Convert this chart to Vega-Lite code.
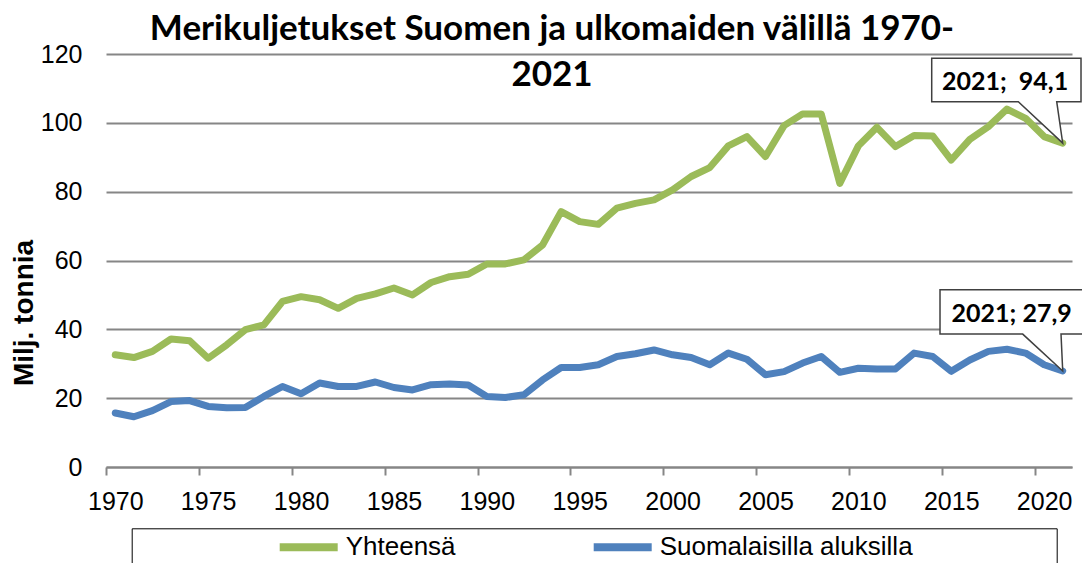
{
  "$schema": "https://vega.github.io/schema/vega-lite/v6.json",
  "width": 966,
  "height": 413,
  "autosize": {"type": "none"},
  "padding": {"left": 106, "top": 54, "right": 10, "bottom": 96},
  "background": "white",
  "config": {"view": {"stroke": null}, "font": "Liberation Sans"},
  "title": {
    "text": ["Merikuljetukset Suomen ja ulkomaiden välillä 1970-", "2021"],
    "font": "Lato",
    "fontSize": 35,
    "fontWeight": "bold",
    "color": "black",
    "anchor": "middle",
    "frame": "group",
    "baseline": "top",
    "lineHeight": 46,
    "offset": -51,
    "dx": -37
  },
  "layer": [
    {
      "data": {
        "values": [
          {"vuosi": 1970, "Yhteensä": 32.6, "Suomalaisilla aluksilla": 15.7},
          {"vuosi": 1971, "Yhteensä": 31.8, "Suomalaisilla aluksilla": 14.6},
          {"vuosi": 1972, "Yhteensä": 33.6, "Suomalaisilla aluksilla": 16.4},
          {"vuosi": 1973, "Yhteensä": 37.2, "Suomalaisilla aluksilla": 19.0},
          {"vuosi": 1974, "Yhteensä": 36.7, "Suomalaisilla aluksilla": 19.3},
          {"vuosi": 1975, "Yhteensä": 31.6, "Suomalaisilla aluksilla": 17.6},
          {"vuosi": 1976, "Yhteensä": 35.5, "Suomalaisilla aluksilla": 17.2},
          {"vuosi": 1977, "Yhteensä": 39.9, "Suomalaisilla aluksilla": 17.3},
          {"vuosi": 1978, "Yhteensä": 41.3, "Suomalaisilla aluksilla": 20.5},
          {"vuosi": 1979, "Yhteensä": 48.1, "Suomalaisilla aluksilla": 23.4},
          {"vuosi": 1980, "Yhteensä": 49.5, "Suomalaisilla aluksilla": 21.3},
          {"vuosi": 1981, "Yhteensä": 48.6, "Suomalaisilla aluksilla": 24.4},
          {"vuosi": 1982, "Yhteensä": 46.1, "Suomalaisilla aluksilla": 23.4},
          {"vuosi": 1983, "Yhteensä": 49.0, "Suomalaisilla aluksilla": 23.4},
          {"vuosi": 1984, "Yhteensä": 50.3, "Suomalaisilla aluksilla": 24.7},
          {"vuosi": 1985, "Yhteensä": 52.0, "Suomalaisilla aluksilla": 23.1},
          {"vuosi": 1986, "Yhteensä": 50.0, "Suomalaisilla aluksilla": 22.4},
          {"vuosi": 1987, "Yhteensä": 53.6, "Suomalaisilla aluksilla": 23.9},
          {"vuosi": 1988, "Yhteensä": 55.3, "Suomalaisilla aluksilla": 24.1},
          {"vuosi": 1989, "Yhteensä": 56.0, "Suomalaisilla aluksilla": 23.8},
          {"vuosi": 1990, "Yhteensä": 59.0, "Suomalaisilla aluksilla": 20.5},
          {"vuosi": 1991, "Yhteensä": 59.0, "Suomalaisilla aluksilla": 20.2},
          {"vuosi": 1992, "Yhteensä": 60.2, "Suomalaisilla aluksilla": 21.0},
          {"vuosi": 1993, "Yhteensä": 64.5, "Suomalaisilla aluksilla": 25.3},
          {"vuosi": 1994, "Yhteensä": 74.2, "Suomalaisilla aluksilla": 28.9},
          {"vuosi": 1995, "Yhteensä": 71.3, "Suomalaisilla aluksilla": 28.9},
          {"vuosi": 1996, "Yhteensä": 70.5, "Suomalaisilla aluksilla": 29.7},
          {"vuosi": 1997, "Yhteensä": 75.2, "Suomalaisilla aluksilla": 32.1},
          {"vuosi": 1998, "Yhteensä": 76.6, "Suomalaisilla aluksilla": 32.9},
          {"vuosi": 1999, "Yhteensä": 77.6, "Suomalaisilla aluksilla": 34.0},
          {"vuosi": 2000, "Yhteensä": 80.5, "Suomalaisilla aluksilla": 32.6},
          {"vuosi": 2001, "Yhteensä": 84.4, "Suomalaisilla aluksilla": 31.8},
          {"vuosi": 2002, "Yhteensä": 87.0, "Suomalaisilla aluksilla": 29.7},
          {"vuosi": 2003, "Yhteensä": 93.3, "Suomalaisilla aluksilla": 33.1},
          {"vuosi": 2004, "Yhteensä": 96.0, "Suomalaisilla aluksilla": 31.3},
          {"vuosi": 2005, "Yhteensä": 90.2, "Suomalaisilla aluksilla": 26.8},
          {"vuosi": 2006, "Yhteensä": 99.2, "Suomalaisilla aluksilla": 27.7},
          {"vuosi": 2007, "Yhteensä": 102.6, "Suomalaisilla aluksilla": 30.2},
          {"vuosi": 2008, "Yhteensä": 102.6, "Suomalaisilla aluksilla": 32.1},
          {"vuosi": 2009, "Yhteensä": 82.4, "Suomalaisilla aluksilla": 27.5},
          {"vuosi": 2010, "Yhteensä": 93.3, "Suomalaisilla aluksilla": 28.7},
          {"vuosi": 2011, "Yhteensä": 98.7, "Suomalaisilla aluksilla": 28.5},
          {"vuosi": 2012, "Yhteensä": 93.1, "Suomalaisilla aluksilla": 28.5},
          {"vuosi": 2013, "Yhteensä": 96.3, "Suomalaisilla aluksilla": 33.1},
          {"vuosi": 2014, "Yhteensä": 96.2, "Suomalaisilla aluksilla": 32.1},
          {"vuosi": 2015, "Yhteensä": 89.2, "Suomalaisilla aluksilla": 27.8},
          {"vuosi": 2016, "Yhteensä": 95.2, "Suomalaisilla aluksilla": 31.1},
          {"vuosi": 2017, "Yhteensä": 98.9, "Suomalaisilla aluksilla": 33.6},
          {"vuosi": 2018, "Yhteensä": 104.0, "Suomalaisilla aluksilla": 34.2},
          {"vuosi": 2019, "Yhteensä": 101.3, "Suomalaisilla aluksilla": 33.1},
          {"vuosi": 2020, "Yhteensä": 96.0, "Suomalaisilla aluksilla": 29.7},
          {"vuosi": 2021, "Yhteensä": 94.1, "Suomalaisilla aluksilla": 27.9}
        ]
      },
      "transform": [{"fold": ["Yhteensä", "Suomalaisilla aluksilla"], "as": ["sarja", "arvo"]}],
      "mark": {"type": "line", "strokeWidth": 7, "strokeJoin": "round", "strokeCap": "round"},
      "encoding": {
        "x": {
          "field": "vuosi",
          "type": "quantitative",
          "scale": {"domain": [1969.5, 2021.5], "nice": false, "zero": false},
          "axis": {
            "title": null,
            "values": [1970, 1975, 1980, 1985, 1990, 1995, 2000, 2005, 2010, 2015, 2020],
            "format": "d",
            "grid": false,
            "tickOffset": -9.29,
            "labelOffset": 9.29,
            "tickSize": 8,
            "tickColor": "#868686",
            "tickWidth": 2,
            "domainColor": "#868686",
            "domainWidth": 2,
            "labelPadding": 14,
            "labelFont": "Liberation Sans",
            "labelFontSize": 25,
            "labelColor": "black",
            "labelFlush": false,
            "labelOverlap": false
          }
        },
        "y": {
          "field": "arvo",
          "type": "quantitative",
          "scale": {"domain": [0, 120], "nice": false},
          "axis": {
            "title": "Milj. tonnia",
            "values": [0, 20, 40, 60, 80, 100, 120],
            "grid": true,
            "gridColor": "#868686",
            "gridWidth": 2,
            "domain": false,
            "ticks": false,
            "tickSize": 0,
            "labelPadding": 24,
            "labelFont": "Liberation Sans",
            "labelFontSize": 25,
            "labelColor": "black",
            "titleFont": "Liberation Sans",
            "titleFontSize": 28,
            "titleFontWeight": "bold",
            "titleColor": "black",
            "titleAngle": 270,
            "titleAlign": "center",
            "titleBaseline": "alphabetic",
            "titleX": -74,
            "titleY": 258.5
          }
        },
        "color": {
          "field": "sarja",
          "type": "nominal",
          "scale": {"domain": ["Yhteensä", "Suomalaisilla aluksilla"], "range": ["#9BBB59", "#4F81BD"]},
          "legend": {
            "orient": "none",
            "legendX": 25.7,
            "legendY": 474.3,
            "direction": "horizontal",
            "title": "\u200b\u00a0\u00a0\u00a0\u00a0\u00a0\u00a0\u00a0\u00a0\u00a0\u00a0\u00a0\u00a0\u00a0\u00a0\u00a0\u00a0\u00a0\u00a0\u200b",
            "titleOrient": "left",
            "titlePadding": 3,
            "titleFont": "Liberation Sans",
            "titleFontSize": 25,
            "titleFontWeight": "normal",
            "titleOpacity": 0,
            "labelFont": "Liberation Sans",
            "labelFontSize": 26,
            "labelColor": "black",
            "labelLimit": 600,
            "labelOffset": 53,
            "labelExpr": "datum.label == 'Suomalaisilla aluksilla' ? datum.label + '\u00a0\u00a0\u00a0\u00a0\u00a0\u00a0\u00a0\u00a0\u00a0\u00a0\u00a0\u00a0\u00a0\u00a0\u00a0\u00a0\u00a0\u00a0\u00a0\u200b' : datum.label",
            "symbolType": "M0,0L58,0",
            "symbolSize": 4,
            "symbolStrokeWidth": 8,
            "columnPadding": 122,
            "padding": 6,
            "strokeColor": "black",
            "fillColor": "white"
          }
        }
      }
    },
    {
      "data": {"values": [{"vuosi": 2021, "arvo": 94.1}]},
      "mark": {
        "type": "point",
        "shape": "M0,0L-44.4,-41.5L-131,-41.5L-131,-84.9L18.3,-84.9L18.3,-41.5L-6,-41.5Z",
        "size": 4,
        "filled": true,
        "fill": "white",
        "stroke": "#404040",
        "strokeWidth": 1.5,
        "opacity": 1,
        "fillOpacity": 1
      },
      "encoding": {
        "x": {"field": "vuosi", "type": "quantitative"},
        "y": {"field": "arvo", "type": "quantitative"}
      }
    },
    {
      "data": {"values": [{"vuosi": 2021, "arvo": 94.1, "teksti": "2021; \u00a094,1"}]},
      "mark": {"type": "text", "font": "Lato", "fontWeight": "bold", "fontSize": 25, "align": "center", "baseline": "alphabetic", "dx": -57.7, "dy": -53.2, "color": "black"},
      "encoding": {
        "x": {"field": "vuosi", "type": "quantitative"},
        "y": {"field": "arvo", "type": "quantitative"},
        "text": {"field": "teksti"}
      }
    },
    {
      "data": {"values": [{"vuosi": 2021, "arvo": 27.9}]},
      "mark": {
        "type": "point",
        "shape": "M0,0L-40,-36.9L-122.7,-36.9L-122.7,-81.2L21,-81.2L21,-36.9L-1.7,-36.9Z",
        "size": 4,
        "filled": true,
        "fill": "white",
        "stroke": "#404040",
        "strokeWidth": 1.5,
        "opacity": 1,
        "fillOpacity": 1
      },
      "encoding": {
        "x": {"field": "vuosi", "type": "quantitative"},
        "y": {"field": "arvo", "type": "quantitative"}
      }
    },
    {
      "data": {"values": [{"vuosi": 2021, "arvo": 27.9, "teksti": "2021; 27,9"}]},
      "mark": {"type": "text", "font": "Lato", "fontWeight": "bold", "fontSize": 25, "align": "center", "baseline": "alphabetic", "dx": -51, "dy": -48.5, "color": "black"},
      "encoding": {
        "x": {"field": "vuosi", "type": "quantitative"},
        "y": {"field": "arvo", "type": "quantitative"},
        "text": {"field": "teksti"}
      }
    }
  ]
}
